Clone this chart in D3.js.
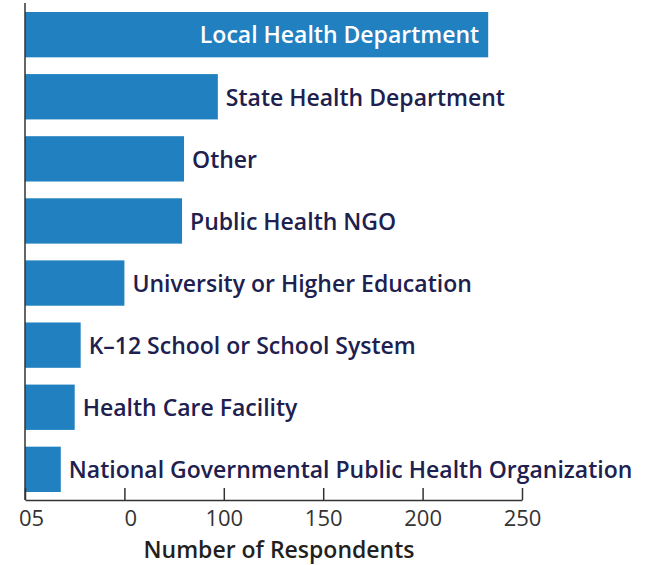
<!DOCTYPE html>
<html>
<head>
<meta charset="utf-8">
<script src="https://cdn.jsdelivr.net/npm/d3@7"></script>
<style>
  body { margin: 0; background: #fff; }
  text { font-family: "Open Sans", sans-serif; }
</style>
</head>
<body>
<div id="chart"></div>
<script>
// data
var categories = [
  "Local Health Department",
  "State Health Department",
  "Other",
  "Public Health NGO",
  "University or Higher Education",
  "K\u201312 School or School System",
  "Health Care Facility",
  "National Governmental Public Health Organization"
];
var respondents = [233, 97, 80, 79, 50, 28, 25, 18];
var tickValues = [0, 50, 100, 150, 200, 250];
var tickLabels = ["05", "0", "100", "150", "200", "250"];

var svgWidth = 650;
var svgHeight = 565;

var svg = d3.select("#chart")
  .append("svg")
  .attr("width", svgWidth)
  .attr("height", svgHeight);

var x = d3.scaleLinear()
  .domain([0, 250])
  .range([25, 522]);

var y = d3.scaleBand()
  .domain(categories)
  .range([12, 492])
  .paddingInner(0.27)
  .paddingOuter(0);

var axisY = 500;

// bars
svg.append("g")
  .selectAll("rect")
  .data(categories)
  .enter()
  .append("rect")
  .attr("x", x(0))
  .attr("y", d => y(d))
  .attr("width", (d, i) => x(respondents[i]) - x(0))
  .attr("height", y.bandwidth())
  .attr("fill", "#2180c0");

// bar labels: first one sits inside the bar, the rest outside
svg.append("g")
  .selectAll("text")
  .data(categories)
  .enter()
  .append("text")
  .attr("x", (d, i) => i === 0 ? x(respondents[i]) - 9 : x(respondents[i]) + 8)
  .attr("y", d => y(d) + y.bandwidth() / 2)
  .attr("dy", "0.38em")
  .attr("text-anchor", (d, i) => i === 0 ? "end" : "start")
  .style("font-size", "23px")
  .style("font-weight", 600)
  .style("fill", (d, i) => i === 0 ? "#ffffff" : "#20204f")
  .text(d => d);

// x axis, ticks pointing up into the plot
var xAxis = svg.append("g")
  .attr("transform", `translate(0, ${axisY})`)
  .call(d3.axisBottom(x)
    .tickValues(tickValues)
    .tickFormat((d, i) => tickLabels[i])
    .tickSizeInner(-12)
    .tickSizeOuter(0));

xAxis.select(".domain")
  .attr("stroke", "#333")
  .attr("stroke-width", 1.5);
xAxis.selectAll(".tick line")
  .attr("stroke", "#333")
  .attr("stroke-width", 1.5);
xAxis.selectAll(".tick text")
  .attr("y", 26)
  .attr("dy", 0)
  .attr("dx", (d, i) => i < 2 ? 6 : 0)
  .style("font-size", "22px")
  .style("font-family", "'Open Sans', sans-serif")
  .style("fill", "#333");

// y axis line
svg.append("line")
  .attr("x1", x(0))
  .attr("x2", x(0))
  .attr("y1", 3)
  .attr("y2", axisY)
  .attr("stroke", "#333")
  .attr("stroke-width", 1.5);

// axis title
svg.append("text")
  .attr("x", 279)
  .attr("y", 558)
  .attr("text-anchor", "middle")
  .style("font-size", "23px")
  .style("font-weight", 600)
  .style("fill", "#231f20")
  .text("Number of Respondents");
</script>
</body>
</html>
